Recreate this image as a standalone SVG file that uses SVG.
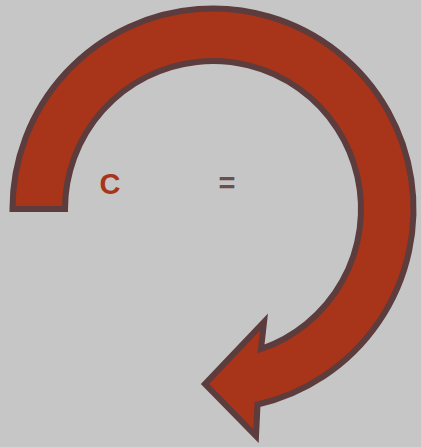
<svg xmlns="http://www.w3.org/2000/svg" width="421" height="447" viewBox="0 0 421 447">
<style>
.bg{fill:#c6c6c6}
.arrow{fill:#a8341a;stroke:#5c3c3c;stroke-width:6;stroke-linejoin:miter;stroke-miterlimit:10}
.lbl{font-family:"Liberation Sans",Arial,sans-serif;font-weight:bold;font-size:29px;text-anchor:middle}
</style>
<rect class="bg" x="0" y="0" width="421" height="447"/>
<g id="connectors">
<path id="circular-arrow" class="arrow" d="M 12.5,209 A 200.5 200.5 0 1 1 257.5,404.5 L 256,436 L 205,384 L 264,322 L 261,349 A 148 148 0 1 0 65,209 Z"/>
</g>
<g id="node-c"><text class="lbl" x="110" y="194" fill="#a8341a">C</text></g>
<g id="node-eq"><text class="lbl" x="227" y="193" fill="#6b4f4f">=</text></g>
</svg>
